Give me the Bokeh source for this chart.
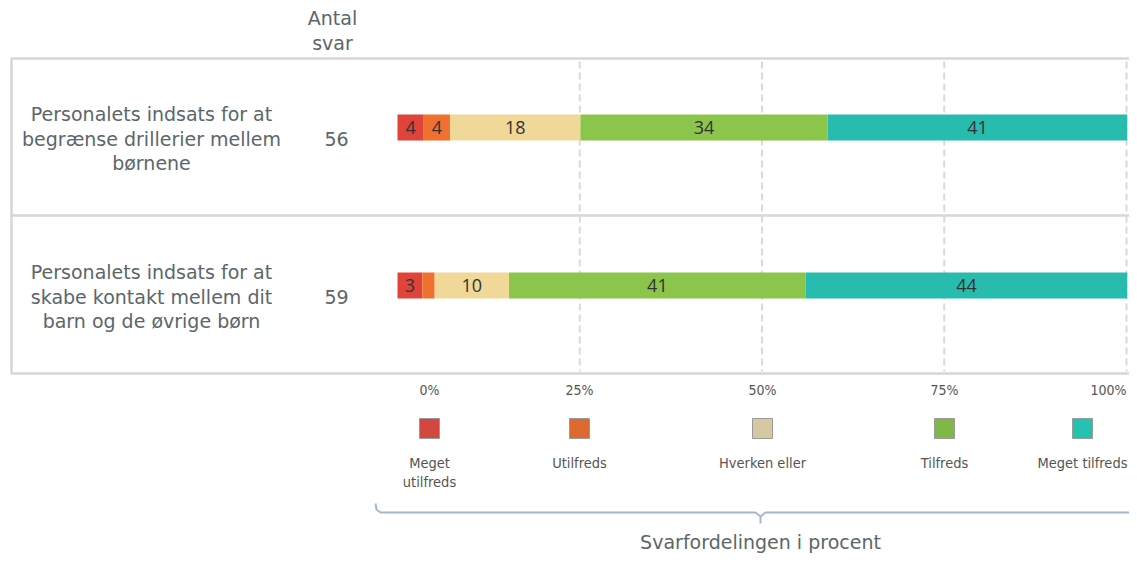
from bokeh.plotting import figure
from bokeh.models import Range1d, ColumnDataSource
from bokeh.core.properties import value
from bokeh.embed import file_html
from bokeh.resources import INLINE

# ---------------- data ----------------
questions = [
    ["Personalets indsats for at", "begrænse drillerier mellem", "børnene"],
    ["Personalets indsats for at", "skabe kontakt mellem dit", "barn og de øvrige børn"],
]
answer_counts = [56, 59]
categories = ["Meget utilfreds", "Utilfreds", "Hverken eller", "Tilfreds", "Meget tilfreds"]
legend_lines = [["Meget", "utilfreds"], ["Utilfreds"], ["Hverken eller"], ["Tilfreds"], ["Meget tilfreds"]]
pct_row1 = [3.6, 3.6, 17.9, 33.9, 41.1]
pct_row2 = [3.4, 1.7, 10.2, 40.7, 44.1]
tick_values = [0, 25, 50, 75, 100]
tick_labels = ["0%", "25%", "50%", "75%", "100%"]
header = ["Antal", "svar"]
axis_title = "Svarfordelingen i procent"

# ---------------- style ----------------
bar_colors = ["#e0433a", "#f07030", "#efd898", "#8bc54b", "#28bcae"]
legend_colors = ["#d24840", "#dc6a30", "#d6c9a2", "#80b848", "#24c2b0"]
TEXT = "#5b666b"
FONT = value("DejaVu Sans")
NUMFONT = value("Open Sans")
NARROW = value("DejaVu Sans Condensed")

W, H = 1129, 555
# reference pixel -> data helpers (layout only)
X0, XS = 397.0, 7.29      # 0% position and px per percent
Y0, YS = 127.0, 158.0     # first row centre and px per row
def X(px):
    return (px - X0) / XS
def Y(py):
    return (py - Y0) / YS

p = figure(width=W, height=H,
           x_range=Range1d(X(0), X(W)), y_range=Range1d(Y(H), Y(0)),
           output_backend="svg", toolbar_location=None,
           x_axis_location=None, y_axis_location=None,
           min_border=0, outline_line_color=None)
p.xgrid.visible = False
p.ygrid.visible = False
p.background_fill_color = "white"
p.border_fill_color = "white"

# table frame
border = "#d6d6d6"
p.multi_line(xs=[[X(1160), X(11), X(11), X(1160)], [X(11), X(1160)]],
             ys=[[Y(58), Y(58), Y(373), Y(373)], [Y(215), Y(215)]],
             line_color=border, line_width=2.5)

# dashed grid lines
gx = [t for t in tick_values if t > 0]
p.segment(x0=gx, x1=gx, y0=[Y(61)] * len(gx), y1=[Y(371)] * len(gx),
          line_color="#d9d9d9", line_width=2, line_dash="7 4")

# stacked bars
rows = [pct_row1, pct_row2]
bar_h = 26 / YS
src = dict(y=[], left=[], right=[], color=[], xc=[], label=[])
for r, vals in enumerate(rows):
    acc = 0.0
    for c, v in enumerate(vals):
        src["y"].append(r)
        src["left"].append(acc)
        src["right"].append(acc + v)
        src["color"].append(bar_colors[c])
        src["xc"].append(acc + v / 2)
        src["label"].append(str(int(round(v))) if v >= 2.5 else "")
        acc += v
source = ColumnDataSource(src)
p.hbar(y="y", left="left", right="right", height=bar_h, color="color",
       line_color=None, source=source)
p.text(x="xc", y="y", text="label", source=source, text_font=NUMFONT,
       text_font_size="18px", text_color="#333333", text_align="center",
       text_baseline="middle")

# row labels + counts
lx, ly, lt = [], [], []
for r, lines in enumerate(questions):
    n = len(lines)
    for k, line in enumerate(lines):
        lx.append(X(151))
        ly.append(r + (11 + (k - (n - 1) / 2) * 24.5) / YS)
        lt.append(line)
p.text(x=lx, y=ly, text=lt, text_font=FONT, text_font_size="19px",
       text_color=TEXT, text_align="center", text_baseline="middle")
p.text(x=[X(336)] * len(answer_counts), y=[r + 11 / YS for r in range(len(answer_counts))],
       text=[str(c) for c in answer_counts], text_font=FONT, text_font_size="19px",
       text_color=TEXT, text_align="center", text_baseline="middle")

# header
p.text(x=[X(332)] * len(header), y=[Y(17 + 25 * i) for i in range(len(header))],
       text=header, text_font=FONT, text_font_size="19px", text_color=TEXT,
       text_align="center", text_baseline="middle")

# tick labels (placed as in reference, first and last nudged inward)
tick_px = [429, 579, 762, 944, 1108]
p.text(x=[X(px) for px in tick_px], y=[Y(389)] * len(tick_labels), text=tick_labels,
       text_font=NARROW, text_font_size="14px", text_color="#555555",
       text_align="center", text_baseline="middle")

# legend
leg_px = [429, 579, 762, 944, 1082]
p.rect(x=[X(px) for px in leg_px], y=[Y(428)] * len(categories), width=20, height=20,
       width_units="screen", height_units="screen", fill_color=legend_colors,
       line_color="#9a9a9a", line_width=1)
tx, ty, tt = [], [], []
for i, lines in enumerate(legend_lines):
    for k, line in enumerate(lines):
        tx.append(X(leg_px[i]))
        ty.append(Y(462 + 19 * k))
        tt.append(line)
p.text(x=tx, y=ty, text=tt, text_font=NARROW, text_font_size="14.5px",
       text_color="#555555", text_align="center", text_baseline="middle")

# brace
brace = "#a6b8cc"
p.multi_line(xs=[[X(375), X(376), X(380), X(755), X(760), X(760)],
                 [X(760), X(765), X(1160)]],
             ys=[[Y(503), Y(509), Y(512), Y(512), Y(516), Y(523)],
                 [Y(516), Y(512), Y(512)]],
             line_color=brace, line_width=2)
p.text(x=[X(760)], y=[Y(541)], text=[axis_title], text_font=FONT,
       text_font_size="19px", text_color=TEXT, text_align="center",
       text_baseline="middle")

open("out.html", "w").write(file_html(p, INLINE))
